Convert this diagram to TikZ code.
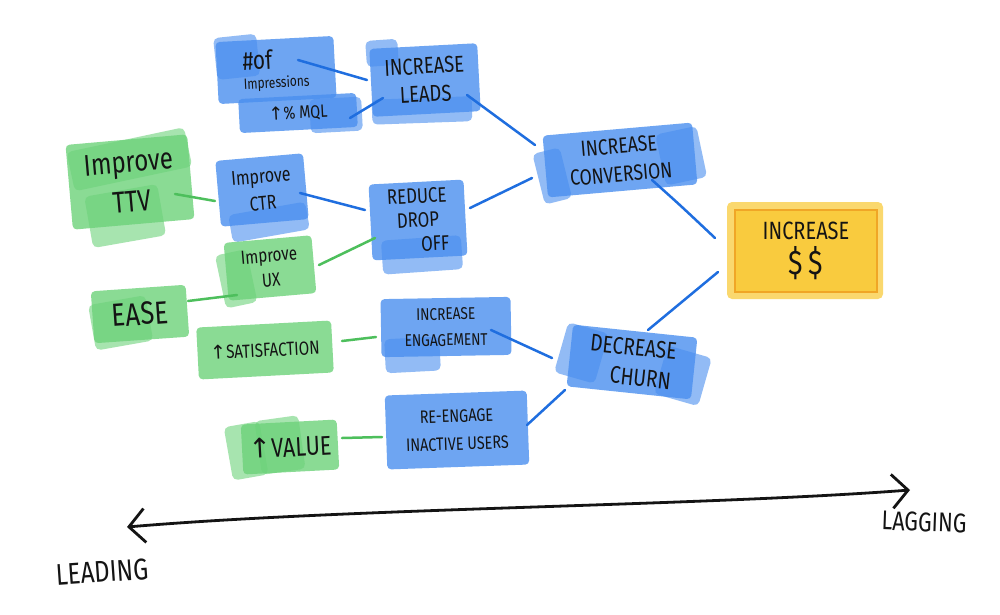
\documentclass[tikz,border=0pt]{standalone}
\usepackage{fontspec}
\setmainfont{Fira Sans}
\newfontfamily\hand[FakeStretch=0.8]{Fira Sans}
\newfontfamily\sym{DejaVu Sans}
\usetikzlibrary{arrows.meta,calc}
\definecolor{bp}{HTML}{4A8FEF}
\definecolor{gp}{HTML}{6DD27A}
\definecolor{yp}{HTML}{F9CB3E}
\definecolor{yb}{HTML}{F0A626}
\definecolor{bl}{HTML}{1F6EDF}
\definecolor{gl}{HTML}{4DBF5C}
\definecolor{ink}{HTML}{141414}
\newcommand\hsz[2]{\hand\fontsize{#1}{#2}\selectfont}
\newcommand\up{{\sym ↑}}
\tikzset{
  paintb/.style={fill=bp, fill opacity=0.8, rounded corners=4pt},
  paintg/.style={fill=gp, fill opacity=0.8, rounded corners=4pt},
  blobb/.style={fill=bp, fill opacity=0.6, rounded corners=5pt},
  blobg/.style={fill=gp, fill opacity=0.6, rounded corners=5pt},
  bbox/.style={paintb, text opacity=1, text=ink, align=center, inner sep=2pt},
  gbox/.style={paintg, text opacity=1, text=ink, align=center, inner sep=2pt},
  bline/.style={draw=bl, line width=2.5pt, line cap=round},
  gline/.style={draw=gl, line width=2.5pt, line cap=round},
  axis/.style={draw=ink, line width=2.8pt, line cap=round,
    {Straight Barb[length=16pt,width=34pt]}-{Straight Barb[length=16pt,width=34pt]}},
  lbl/.style={text=ink, inner sep=0pt},
}
\begin{document}
\begin{tikzpicture}[x=1pt,y=-1pt]
\useasboundingbox (0,0) rectangle (1000,614);
\fill[white] (0,0) rectangle (1000,614);

% paint blobs (irregular brush strokes)
\fill[blobb, rotate around={6:(235,55)}] (215,36) rectangle (258,78);
\fill[blobb, rotate around={3:(335,115)}] (310,98) rectangle (362,132);
\fill[blobb, rotate around={4:(380,52)}] (366,40) rectangle (398,66);
\fill[blobb, rotate around={2:(420,110)}] (372,98) rectangle (472,123);
\fill[blobb, rotate around={14:(552,175)}] (538,150) rectangle (566,202);
\fill[blobb, rotate around={12:(680,155)}] (660,130) rectangle (702,182);
\fill[blobg, rotate around={10:(125,215)}] (88,190) rectangle (162,242);
\fill[blobg, rotate around={12:(150,160)}] (70,135) rectangle (190,175);
\fill[blobb, rotate around={10:(270,222)}] (230,208) rectangle (308,236);
\fill[blobb, rotate around={4:(420,255)}] (382,238) rectangle (462,272);
\fill[blobg, rotate around={12:(235,278)}] (220,252) rectangle (252,306);
\fill[blobg, rotate around={10:(120,325)}] (92,300) rectangle (150,346);
\fill[blobb, rotate around={3:(410,355)}] (385,338) rectangle (440,372);
\fill[blobb, rotate around={-16:(585,355)}] (560,328) rectangle (602,380);
\fill[blobb, rotate around={-16:(680,375)}] (660,350) rectangle (706,400);
\fill[blobg, rotate around={10:(245,450)}] (228,424) rectangle (264,478);
\fill[blobg, rotate around={8:(280,445)}] (258,418) rectangle (302,472);
\fill[yp, opacity=0.75, rounded corners=5pt] (727,202) rectangle (883,299);

% nodes
\node[bbox, minimum width=118pt, minimum height=62pt, rotate=3, align=left,
  font={\hsz{15}{19}}] (imp) at (276,70)
  {\hsz{26}{26}\#of\\Impressions};
\node[bbox, minimum width=118pt, minimum height=34pt, rotate=3,
  font={\hsz{18}{18}}] (mql) at (298,113)
  {\up{}\% MQL};
\node[bbox, minimum width=108pt, minimum height=68pt, rotate=3,
  font={\hsz{23}{28}}] (leads) at (425,80)
  {INCREASE\\LEADS};
\node[bbox, minimum width=150pt, minimum height=62pt, rotate=5,
  font={\hsz{22}{28}}] (conv) at (620,160)
  {INCREASE\\CONVERSION};
\node[gbox, minimum width=122pt, minimum height=85pt, rotate=5,
  font={\hsz{30}{40}}] (ttv) at (130,182)
  {Improve\\TTV};
\node[bbox, minimum width=88pt, minimum height=66pt, rotate=5,
  font={\hsz{20}{27}}] (ctr) at (262,190)
  {Improve\\CTR};
\node[bbox, minimum width=95pt, minimum height=76pt, rotate=3,
  font={\hsz{21}{24}}] (drop) at (418,220)
  {REDUCE\\DROP\\\hspace*{32pt}OFF};
\node[gbox, minimum width=88pt, minimum height=58pt, rotate=5,
  font={\hsz{19}{25}}] (ux) at (270,268)
  {Improve\\UX};
\node[gbox, minimum width=95pt, minimum height=52pt, rotate=4,
  font={\hsz{32}{32}}] (ease) at (140,314)
  {EASE};
\node[gbox, minimum width=135pt, minimum height=52pt, rotate=3,
  font={\hsz{19}{20}}] (sat) at (265,350)
  {\up SATISFACTION};
\node[bbox, minimum width=130pt, minimum height=58pt, rotate=1,
  font={\hsz{17}{26}}] (eng) at (446,327)
  {INCREASE\\ENGAGEMENT};
\node[bbox, minimum width=125pt, minimum height=62pt, rotate=-6,
  font={\hsz{24}{30}}] (churn) at (632,362)
  {DECREASE\\\hspace*{20pt}CHURN};
\node[gbox, minimum width=96pt, minimum height=50pt, rotate=3,
  font={\hsz{27}{27}}] (value) at (290,447)
  {\up VALUE};
\node[bbox, minimum width=142pt, minimum height=74pt, rotate=2,
  font={\hsz{18}{28}}] (reeng) at (457,430)
  {RE-ENGAGE\\INACTIVE USERS};
\node[draw=yb, line width=2pt, fill=yp, text=ink, align=center,
  minimum width=142pt, minimum height=82pt, font={\hsz{25}{35}}] (money) at (806,251)
  {INCREASE\\\hsz{34}{34}\$\,\$};

% connectors
\draw[bline] ([shift={(22,-10)}]imp.center) -- ([shift={(-58,0)}]leads.center);
\draw[bline] ([shift={(52,5)}]mql.center) -- ([shift={(-42,18)}]leads.center);
\draw[bline] ([shift={(42,15)}]leads.center) -- ([shift={(-85,-15)}]conv.center);
\draw[bline] ([shift={(52,-12)}]drop.center) -- ([shift={(-88,18)}]conv.center);
\draw[gline] ([shift={(45,12)}]ttv.center) -- ([shift={(-47,11)}]ctr.center);
\draw[bline] ([shift={(38,3)}]ctr.center) -- ([shift={(-53,-10)}]drop.center);
\draw[gline] ([shift={(49,-3)}]ux.center) -- ([shift={(-43,18)}]drop.center);
\draw[gline] ([shift={(48,-13)}]ease.center) -- ([shift={(-33,27)}]ux.center);
\draw[gline] ([shift={(77,-9)}]sat.center) -- ([shift={(-70,10)}]eng.center);
\draw[bline] ([shift={(45,3)}]eng.center) -- ([shift={(-80,-4)}]churn.center);
\draw[gline] ([shift={(52,-9)}]value.center) -- ([shift={(-75,7)}]reeng.center);
\draw[bline] ([shift={(70,-5)}]reeng.center) -- ([shift={(-67,28)}]churn.center);
\draw[bline] ([shift={(32,20)}]conv.center) .. controls ([shift={(60,45)}]conv.center) .. ([shift={(-91,-13)}]money.center);
\draw[bline] ([shift={(16,-32)}]churn.center) -- ([shift={(-88,21)}]money.center);

% leading / lagging axis
\coordinate (lead) at (127,527);
\coordinate (lag) at (910,490);
\draw[axis] (lead) .. controls (350,508) and (700,506) .. (lag);
\node[lbl, rotate=4] (leading) at (102,572) {\hsz{30}{30}LEADING};
\node[lbl, rotate=-2] (lagging) at (924,522) {\hsz{27}{27}LAGGING};
\end{tikzpicture}
\end{document}
